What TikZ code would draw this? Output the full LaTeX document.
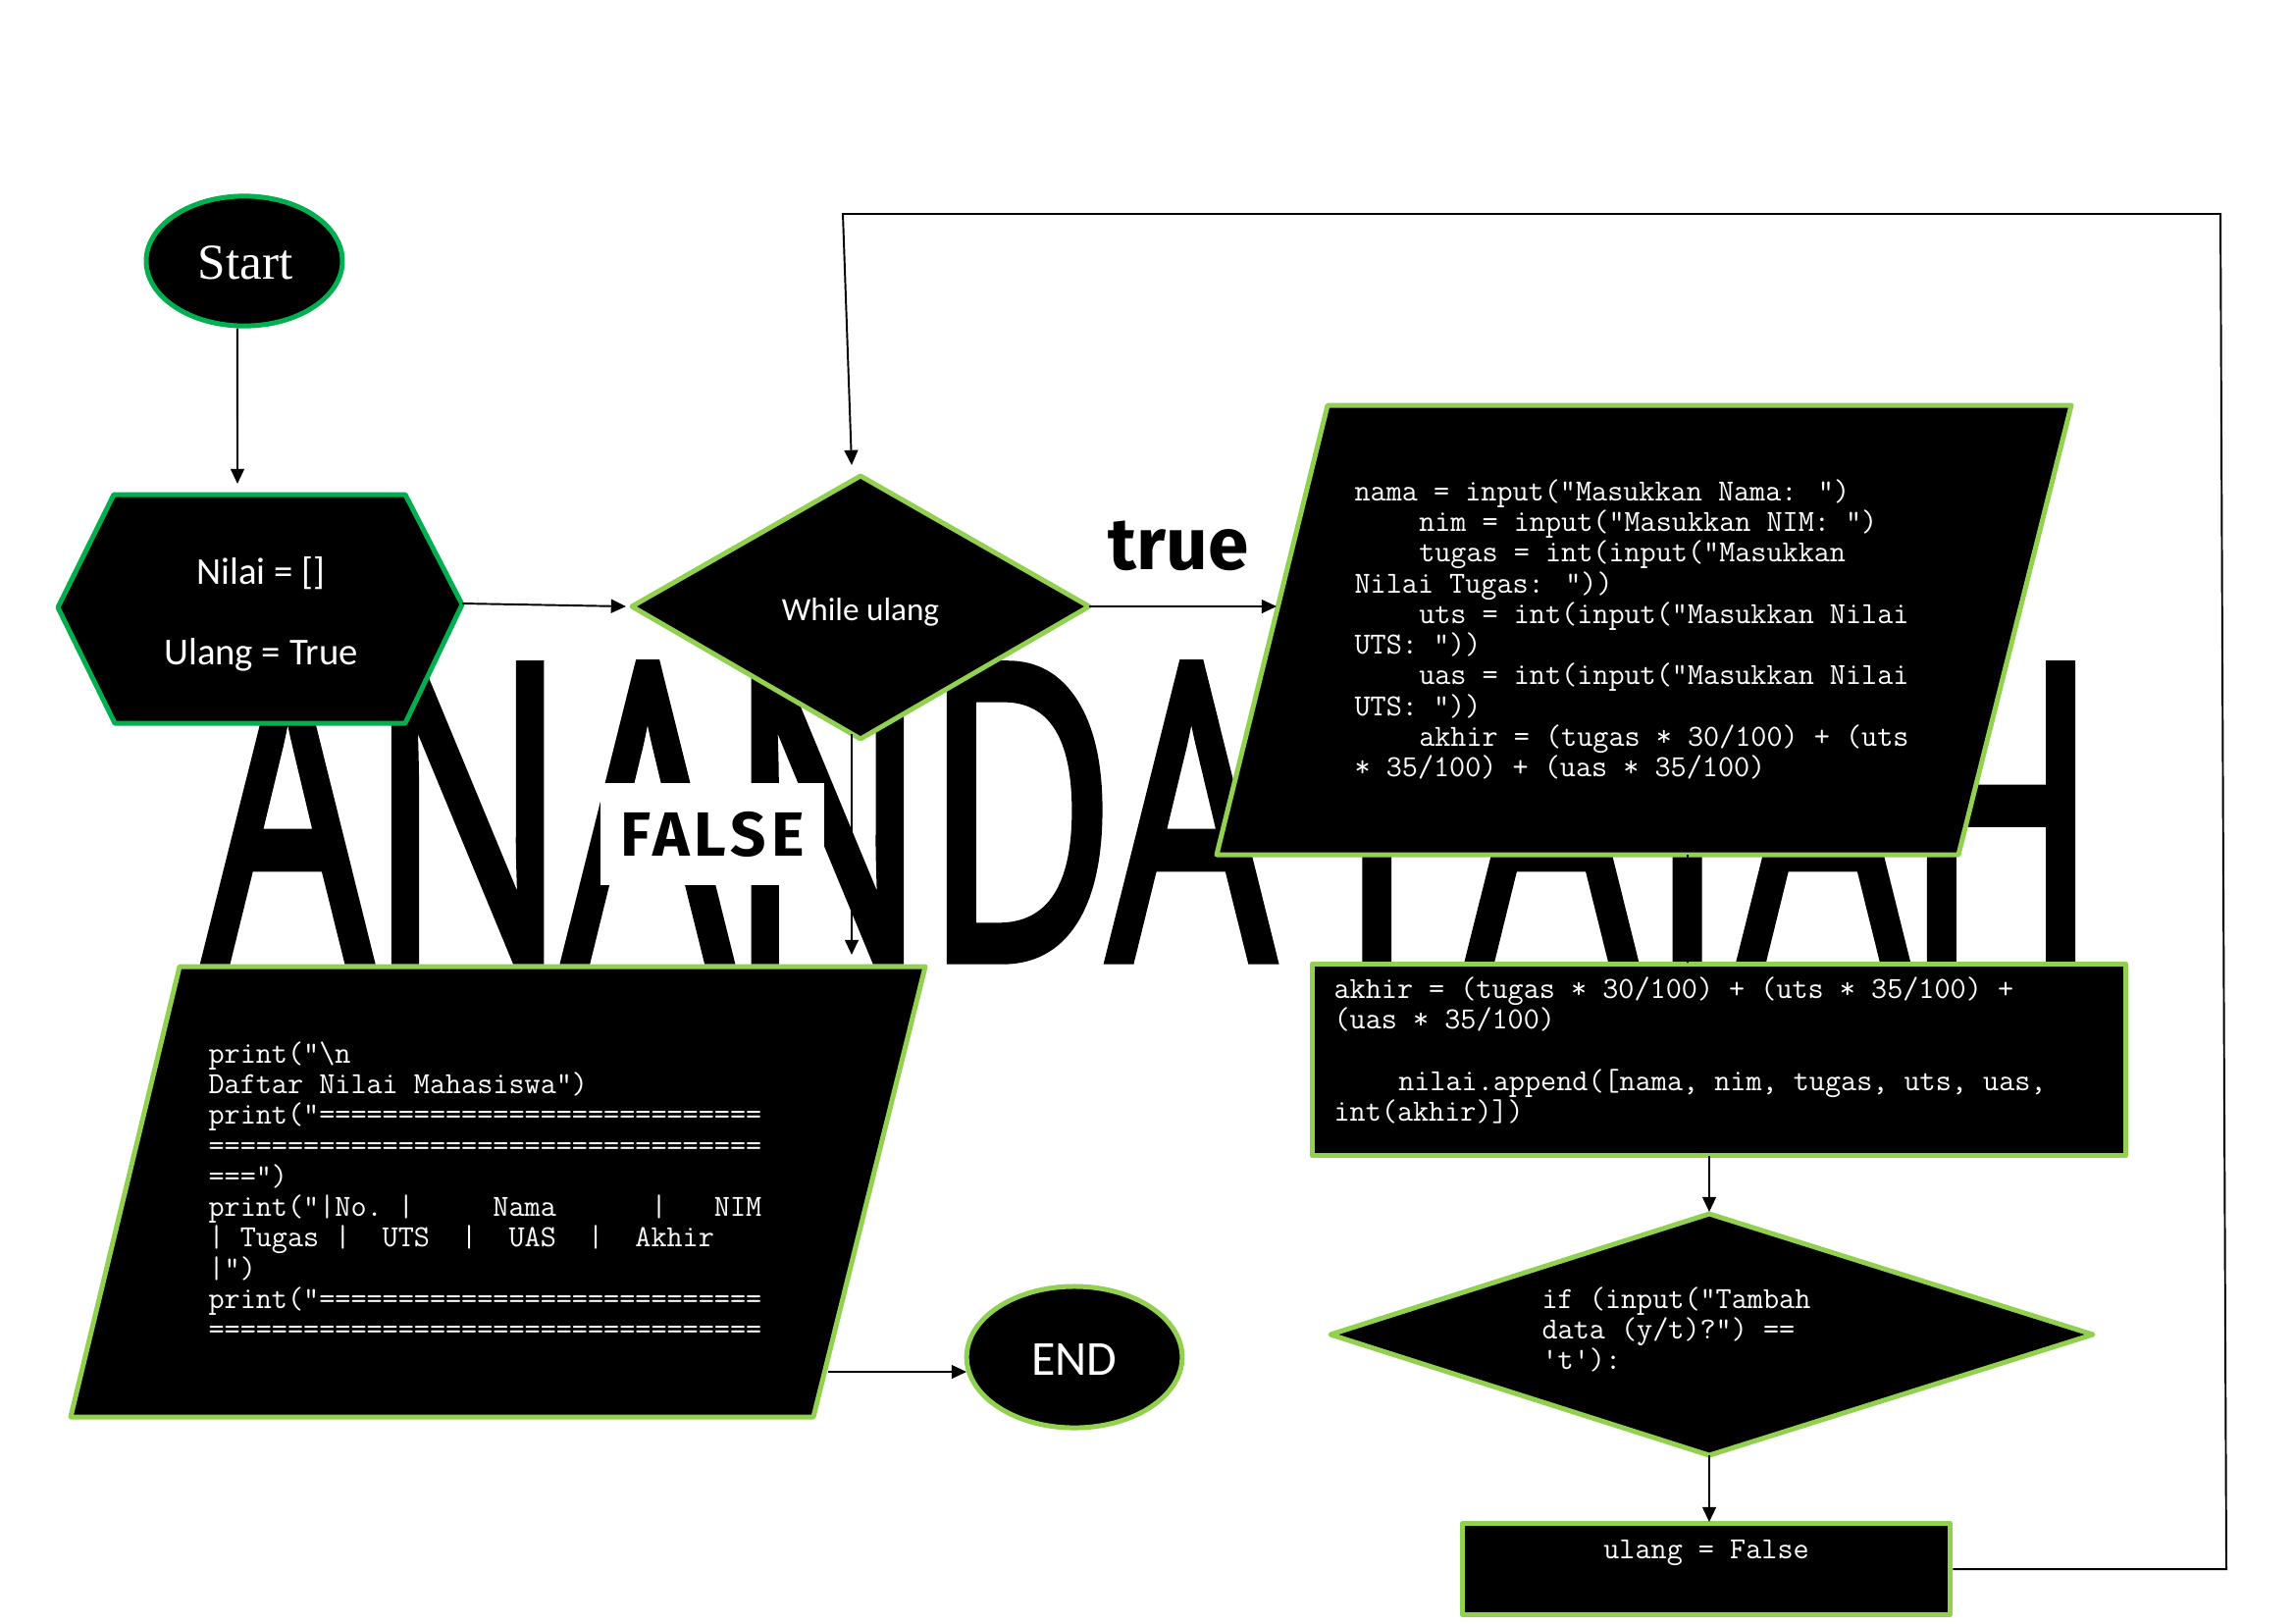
\documentclass[tikz,border=0pt]{standalone}
\usepackage{fontspec}
\usepackage{graphicx}
\usetikzlibrary{arrows.meta,shapes.geometric}
\newfontfamily\serifS{Liberation Serif}
\newfontfamily\calib{Carlito}
\newfontfamily\fira{Fira Sans}
\newfontfamily\opens{Open Sans}[FakeBold=3]
\definecolor{dkgreen}{HTML}{00B050}
\definecolor{ltgreen}{HTML}{92D050}
\begin{document}
\begin{tikzpicture}[x=0.127mm,y=-0.127mm,
  shapeA/.style={fill=black,draw=dkgreen,line width=1.8pt,line join=round},
  shapeB/.style={fill=black,draw=ltgreen,line width=1.8pt,line join=round},
  conn/.style={draw=black,line width=0.7pt},
  arr/.style={conn,-{Triangle[length=5.5pt,width=5pt]}},
  code/.style={text=white,font=\ttfamily\fontsize{11.3}{11.3}\selectfont,align=left,anchor=north west,inner sep=0pt},
  sanstext/.style={text=white,inner sep=0pt}
]
\useasboundingbox[fill=white] (0,0) rectangle (2339,1654);

% big background text
\node[anchor=south west,inner sep=0pt] (bigtext) at (209,977)
  {\resizebox{244.7mm}{37.85mm}{\opens ANANDA FATAH}};

% Start
\node[ellipse,shapeA,minimum width=25.4mm,minimum height=16.8mm,inner sep=0pt] (start) at (249,266) {};
\node[sanstext,font=\serifS\fontsize{18.5}{20}\selectfont] (starttxt) at (250,268) {Start};

% hexagon
\draw[shapeA] (59,619) -- (116,504) -- (413,504) -- (471,616) -- (413,737) -- (117,737) -- cycle;
\coordinate (hexN) at (242,493);
\coordinate (hexE) at (471,615);
\node[sanstext,font=\calib\fontsize{14}{16}\selectfont] (nilai) at (266,584) {Nilai = []};
\node[sanstext,font=\calib\fontsize{14}{16}\selectfont] (ulangT) at (266,667) {Ulang = True};

% while diamond
\draw[shapeB] (877,485) -- (1110,618) -- (877,753) -- (644,618) -- cycle;
\coordinate (dTop) at (868,474);
\coordinate (dL) at (638,618);
\coordinate (dR) at (1110,618);
\coordinate (dB) at (868,748);
\node[sanstext,font=\calib\fontsize{12}{14}\selectfont] (while) at (877,624) {While ulang};

% input parallelogram
\draw[shapeB] (1353,413) -- (2111,413) -- (1996,871) -- (1240,871) -- cycle;
\coordinate (inL) at (1301,618);
\coordinate (inB) at (1720,871);
\node[code] (intext) at (1380,488) {nama = input("Masukkan Nama: ")\\
\hspace*{2.1em}nim = input("Masukkan NIM: ")\\
\hspace*{2.1em}tugas = int(input("Masukkan\\
Nilai Tugas: "))\\
\hspace*{2.1em}uts = int(input("Masukkan Nilai\\
UTS: "))\\
\hspace*{2.1em}uas = int(input("Masukkan Nilai\\
UTS: "))\\
\hspace*{2.1em}akhir = (tugas * 30/100) + (uts\\
{}* 35/100) + (uas * 35/100)};

% akhir box
\node[shapeB,rectangle,minimum width=105.2mm,minimum height=24.8mm,inner sep=0pt] (akhir) at (1752,1080) {};
\coordinate (akT) at (1720,982);
\coordinate (akB) at (1742,1178);
\node[code] (aktext) at (1359,995) {akhir = (tugas * 30/100) + (uts * 35/100) +\\
(uas * 35/100)\\[11.3pt]
\hspace*{2.1em}nilai.append([nama, nim, tugas, uts, uas,\\
int(akhir)])};

% if diamond
\draw[shapeB] (1742,1237) -- (2133,1360) -- (1742,1483) -- (1356,1360) -- cycle;
\coordinate (ifT) at (1742,1235);
\coordinate (ifB) at (1742,1483);
\node[code] (iftext) at (1571,1311) {if (input("Tambah\\
data (y/t)?") ==\\
't'):};

% ulang = False box
\node[shapeB,rectangle,minimum width=63.2mm,minimum height=11.7mm,inner sep=0pt] (ulang) at (1739,1599) {};
\coordinate (ulT) at (1742,1551);
\node[text=white,inner sep=0pt,font=\ttfamily\fontsize{11.3}{11.3}\selectfont] (ulangtxt) at (1739,1582) {ulang = False};

% output parallelogram
\draw[shapeB] (183,985) -- (943,985) -- (829,1444) -- (72,1444) -- cycle;
\coordinate (outT) at (868,973);
\coordinate (outR) at (844,1398);
\node[code] (outtext) at (212,1061) {print("\textbackslash n\\
Daftar Nilai Mahasiswa")\\
print("============================\\
===================================\\
===")\\
print("|No.\ |\ \ \ \ \ Nama\ \ \ \ \ \ |\ \ \ NIM\\
|\ Tugas\ |\ \ UTS\ \ |\ \ UAS\ \ |\ \ Akhir\\
|")\\
print("============================\\
===================================};

% END
\node[ellipse,shapeB,minimum width=27.9mm,minimum height=18.3mm,inner sep=0pt] (end) at (1095,1383) {};
\coordinate (endL) at (985,1398);
\node[sanstext,font=\calib\fontsize{18}{20}\selectfont] (endtxt) at (1095,1385) {END};

% labels
\node[inner sep=0pt,font=\fira\bfseries\fontsize{27}{30}\selectfont] (truelbl) at (1201,556) {true};
\node[fill=white,inner sep=0pt,minimum width=29mm,minimum height=13.2mm,font=\fira\bfseries\fontsize{23}{26}\selectfont\addfontfeature{LetterSpace=8}] (falselbl) at (726,850) {FALSE};

% connectors
\draw[arr] ([xshift=-0.9mm]start.south) -- (hexN);
\draw[arr] (hexE) -- (dL);
\draw[arr] (dR) -- (inL);
\draw[arr] (dB) -- (outT);
\draw[arr] (inB) -- (akT);
\draw[arr] (akB) -- (ifT);
\draw[arr] (ifB) -- (ulT);
\draw[arr] (outR) -- (endL);
\draw[arr] (ulang.east) -- (2269,1599) -- (2263,218) -- (859,218) -- (dTop);
\end{tikzpicture}
\end{document}
